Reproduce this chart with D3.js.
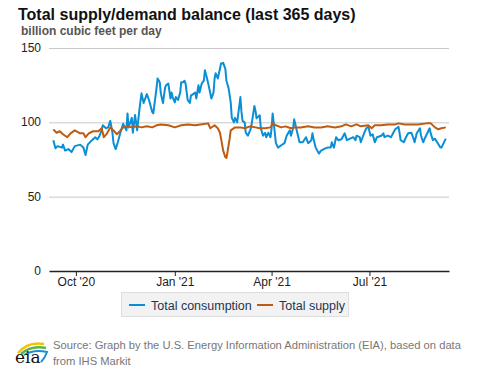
<!DOCTYPE html>
<html>
<head>
<meta charset="utf-8">
<script src="https://cdn.jsdelivr.net/npm/d3@7"></script>
<style>
  body { margin: 0; background: #fff; font-family: "Liberation Sans", Arial, sans-serif; }
</style>
</head>
<body>
<div id="chart"></div>
<script>
// daily values, billion cubic feet per day
const consumption = [
  ["2020-09-10",88],["2020-09-12",82.5],["2020-09-14",84],["2020-09-18",83],["2020-09-19",85],
  ["2020-09-21",81],["2020-09-24",82],["2020-09-27",80],["2020-09-30",84],["2020-10-05",85],
  ["2020-10-08",83],["2020-10-10",78],["2020-10-12",85],["2020-10-16",88],["2020-10-19",90],
  ["2020-10-21",88.5],["2020-10-23",91],["2020-10-25",94.6],["2020-10-26",98],["2020-10-29",96],
  ["2020-10-31",96.6],["2020-11-02",101],["2020-11-04",93],["2020-11-05",86],["2020-11-07",82],
  ["2020-11-09",86.6],["2020-11-12",94.6],["2020-11-14",99],["2020-11-17",94.6],["2020-11-18",106],
  ["2020-11-19",96.6],["2020-11-22",103],["2020-11-23",93],["2020-11-25",105],["2020-11-27",94.6],
  ["2020-11-29",108],["2020-12-01",119.5],["2020-12-03",113],["2020-12-06",119],["2020-12-08",115],
  ["2020-12-11",107],["2020-12-12",106],["2020-12-15",123],["2020-12-16",129.5],["2020-12-18",127],
  ["2020-12-19",119.5],["2020-12-21",113],["2020-12-23",123.5],["2020-12-24",125],["2020-12-26",126],
  ["2020-12-28",116],["2020-12-29",120],["2020-12-30",117],["2021-01-01",113.4],["2021-01-02",117],
  ["2021-01-04",115],["2021-01-06",120],["2021-01-07",127],["2021-01-09",127],["2021-01-10",128],
  ["2021-01-11",126],["2021-01-13",115],["2021-01-15",113],["2021-01-16",118],["2021-01-20",120],
  ["2021-01-21",116],["2021-01-23",125],["2021-01-24",120],["2021-01-26",126],["2021-01-28",128],
  ["2021-01-29",135],["2021-01-31",129.5],["2021-02-02",123],["2021-02-04",116],["2021-02-06",120],
  ["2021-02-07",129.5],["2021-02-08",133],["2021-02-10",129.5],["2021-02-12",136],["2021-02-13",139.6],
  ["2021-02-15",140],["2021-02-17",136],["2021-02-18",128],["2021-02-20",123],["2021-02-22",113.4],
  ["2021-02-23",103],["2021-02-25",100],["2021-02-26",103],["2021-02-28",100],["2021-03-03",117],
  ["2021-03-04",107],["2021-03-05",101],["2021-03-07",100],["2021-03-08",93],["2021-03-10",91],
  ["2021-03-12",94.6],["2021-03-13",96.6],["2021-03-16",111],["2021-03-17",108],["2021-03-18",102.7],
  ["2021-03-21",104.7],["2021-03-22",96],["2021-03-24",91],["2021-03-26",93],["2021-03-27",90],
  ["2021-03-29",93],["2021-03-31",90],["2021-04-01",96],["2021-04-02",106],["2021-04-04",93],
  ["2021-04-05",86],["2021-04-07",83],["2021-04-10",84.6],["2021-04-13",86],["2021-04-15",91],
  ["2021-04-18",94.6],["2021-04-19",91],["2021-04-21",96],["2021-04-22",102],["2021-04-23",99],
  ["2021-04-25",92.6],["2021-04-27",86.6],["2021-04-30",86.6],["2021-05-03",90],["2021-05-05",86],
  ["2021-05-08",88],["2021-05-09",92.6],["2021-05-10",89],["2021-05-12",83],["2021-05-15",79],
  ["2021-05-17",81],["2021-05-21",82.5],["2021-05-23",83],["2021-05-26",83],["2021-05-27",86.6],
  ["2021-05-29",83],["2021-05-31",90],["2021-06-02",88],["2021-06-05",88.6],["2021-06-06",90],
  ["2021-06-08",92.6],["2021-06-10",88],["2021-06-13",89],["2021-06-16",90],["2021-06-18",88],
  ["2021-06-19",91],["2021-06-22",90],["2021-06-23",86.6],["2021-06-26",92.6],["2021-06-28",96],
  ["2021-06-30",97],["2021-07-02",91],["2021-07-04",92],["2021-07-06",86.6],["2021-07-08",90],
  ["2021-07-12",91],["2021-07-14",92.6],["2021-07-15",90],["2021-07-18",91],["2021-07-21",90],
  ["2021-07-23",92.6],["2021-07-25",95.3],["2021-07-28",97],["2021-07-29",93],["2021-07-30",88],
  ["2021-08-02",86.6],["2021-08-04",90],["2021-08-06",92.6],["2021-08-09",93],["2021-08-11",89],
  ["2021-08-12",86.6],["2021-08-14",92.6],["2021-08-17",96],["2021-08-18",91],["2021-08-20",86.6],
  ["2021-08-22",90],["2021-08-24",93],["2021-08-26",96],["2021-08-27",92.6],["2021-08-29",88],
  ["2021-08-31",89],["2021-09-02",86.6],["2021-09-05",83],["2021-09-06",83],["2021-09-08",86],
  ["2021-09-10",89]
];
const supply = [
  ["2020-09-10",95.3],["2020-09-13",93],["2020-09-16",94],["2020-09-19",92],["2020-09-23",90],
  ["2020-09-26",92.6],["2020-09-30",94.6],["2020-10-05",92.6],["2020-10-08",92.6],["2020-10-10",90],
  ["2020-10-13",92.6],["2020-10-17",94],["2020-10-22",94],["2020-10-25",96],["2020-10-27",90],
  ["2020-10-30",92.6],["2020-11-02",96.6],["2020-11-05",94.6],["2020-11-08",92],["2020-11-11",94],
  ["2020-11-14",96.6],["2020-11-18",97.3],["2020-11-22",96.6],["2020-11-27",97.3],["2020-12-01",96.6],
  ["2020-12-06",97.3],["2020-12-11",96.6],["2020-12-15",98],["2020-12-19",98.6],["2020-12-26",98],
  ["2021-01-01",96.6],["2021-01-07",98],["2021-01-13",98.6],["2021-01-20",98],["2021-01-25",98.6],
  ["2021-02-01",99.3],["2021-02-03",96],["2021-02-06",97.5],["2021-02-07",98],["2021-02-10",96],
  ["2021-02-12",93],["2021-02-13",89],["2021-02-15",81],["2021-02-17",76.5],["2021-02-18",76],
  ["2021-02-19",80],["2021-02-21",89],["2021-02-22",94.6],["2021-02-26",96.6],["2021-03-03",96.6],
  ["2021-03-07",96],["2021-03-12",97.3],["2021-03-17",96.6],["2021-03-21",96],["2021-03-26",96],
  ["2021-03-31",96.6],["2021-04-02",99.3],["2021-04-05",98],["2021-04-10",96.6],["2021-04-14",97.3],
  ["2021-04-19",96],["2021-04-23",96.6],["2021-04-28",96.6],["2021-05-05",97.3],["2021-05-11",96.6],
  ["2021-05-17",96.6],["2021-05-23",97.3],["2021-05-30",96.6],["2021-06-05",97.3],["2021-06-09",98.6],
  ["2021-06-14",97.3],["2021-06-19",98.6],["2021-06-23",97.3],["2021-06-30",98],["2021-07-03",96],
  ["2021-07-06",98],["2021-07-12",98],["2021-07-18",98.6],["2021-07-25",98.6],["2021-07-28",99.3],
  ["2021-08-03",98.6],["2021-08-09",98.6],["2021-08-15",98.6],["2021-08-23",99.3],["2021-08-27",99.3],
  ["2021-08-31",96.6],["2021-09-03",95.3],["2021-09-06",96],["2021-09-10",96.6]
];
const yTicks = [0, 50, 100, 150];
const xTicks = ["2020-10-01", "2021-01-01", "2021-04-01", "2021-07-01"];
const xTickLabels = ["Oct '20", "Jan '21", "Apr '21", "Jul '21"];
const seriesNames = ["Total consumption", "Total supply"];
const seriesColors = ["#0a8fd6", "#bf5b10"];

const width = 477, height = 367;
const parse = d3.timeParse("%Y-%m-%d");

const svg = d3.select("#chart").append("svg")
  .attr("width", width).attr("height", height)
  .style("font-family", "'Liberation Sans', Arial, sans-serif");

const x = d3.scaleTime()
  .domain([parse("2020-09-06"), parse("2021-09-13")])
  .range([49, 449]);
const y = d3.scaleLinear().domain([0, 150]).range([271, 48]);

// title
svg.append("text").attr("x", 18).attr("y", 20)
  .attr("font-size", "16px").attr("font-weight", "bold").attr("fill", "#111")
  .text("Total supply/demand balance (last 365 days)");
svg.append("text").attr("x", 21).attr("y", 35)
  .attr("font-size", "12px").attr("font-weight", "bold").attr("fill", "#555")
  .text("billion cubic feet per day");

// grid + y labels
const yAxis = svg.append("g");
yAxis.selectAll("line").data(yTicks.filter(t => t > 0)).join("line")
  .attr("x1", 49).attr("x2", 449)
  .attr("y1", d => y(d) + 0.5).attr("y2", d => y(d) + 0.5)
  .attr("stroke", "#c8c8c8").attr("stroke-width", 1);
yAxis.selectAll("text").data(yTicks).join("text")
  .attr("x", 41).attr("y", d => y(d) + 4)
  .attr("text-anchor", "end").attr("font-size", "12px").attr("fill", "#222")
  .text(d => d);

// x axis
const xAxis = svg.append("g").attr("transform", "translate(0,271)")
  .call(d3.axisBottom(x)
    .tickValues(xTicks.map(parse))
    .tickFormat((d, i) => xTickLabels[i])
    .tickSize(5).tickSizeOuter(0));
xAxis.select(".domain").attr("stroke", "#222").attr("stroke-width", 1.5);
xAxis.selectAll(".tick line").attr("stroke", "#222");
xAxis.selectAll(".tick text").attr("font-size", "12px").attr("fill", "#222")
  .attr("font-family", "'Liberation Sans', Arial, sans-serif").attr("dy", "0.6em");

// lines
const line = d3.line()
  .x(d => x(parse(d[0])))
  .y(d => y(d[1]));
[consumption, supply].forEach((s, i) => {
  svg.append("path").datum(s)
    .attr("fill", "none")
    .attr("stroke", seriesColors[i])
    .attr("stroke-width", 2)
    .attr("stroke-linejoin", "round")
    .attr("d", line);
});

// legend
const lg = svg.append("g");
lg.append("rect").attr("x", 121.5).attr("y", 292.5).attr("width", 227).attr("height", 24)
  .attr("fill", "#f2f2f2").attr("stroke", "#dedede");
const legendX = [129, 257];
seriesNames.forEach((n, i) => {
  lg.append("line").attr("x1", legendX[i]).attr("x2", legendX[i] + 16)
    .attr("y1", 305).attr("y2", 305)
    .attr("stroke", seriesColors[i]).attr("stroke-width", 2);
  lg.append("text").attr("x", legendX[i] + 22).attr("y", 309.5)
    .attr("font-size", "12.5px").attr("fill", "#1f3550").text(n);
});

// footer
const logo = svg.append("g").attr("transform", "translate(14,340)");
logo.append("path").attr("d", "M4,13 Q14,1 30,4").attr("fill", "none")
  .attr("stroke", "#f4c300").attr("stroke-width", 2.5);
logo.append("path").attr("d", "M7,14 Q17,5 32,8").attr("fill", "none")
  .attr("stroke", "#5fb346").attr("stroke-width", 2.5);
logo.append("path").attr("d", "M10,15 Q20,9 33,12 Q31,18 27,22").attr("fill", "none")
  .attr("stroke", "#1b8fd2").attr("stroke-width", 2);
logo.append("text").attr("x", 1).attr("y", 23)
  .attr("font-family", "'DejaVu Serif', 'Liberation Serif', serif")
  .attr("font-size", "17px").attr("fill", "#111").text("eia");

const src = svg.append("text").attr("x", 53).attr("y", 349)
  .attr("font-size", "11.2px").attr("fill", "#777");
src.append("tspan").attr("x", 53).text("Source: Graph by the U.S. Energy Information Administration (EIA), based on data");
src.append("tspan").attr("x", 53).attr("dy", 16).text("from IHS Markit");
</script>
</body>
</html>
